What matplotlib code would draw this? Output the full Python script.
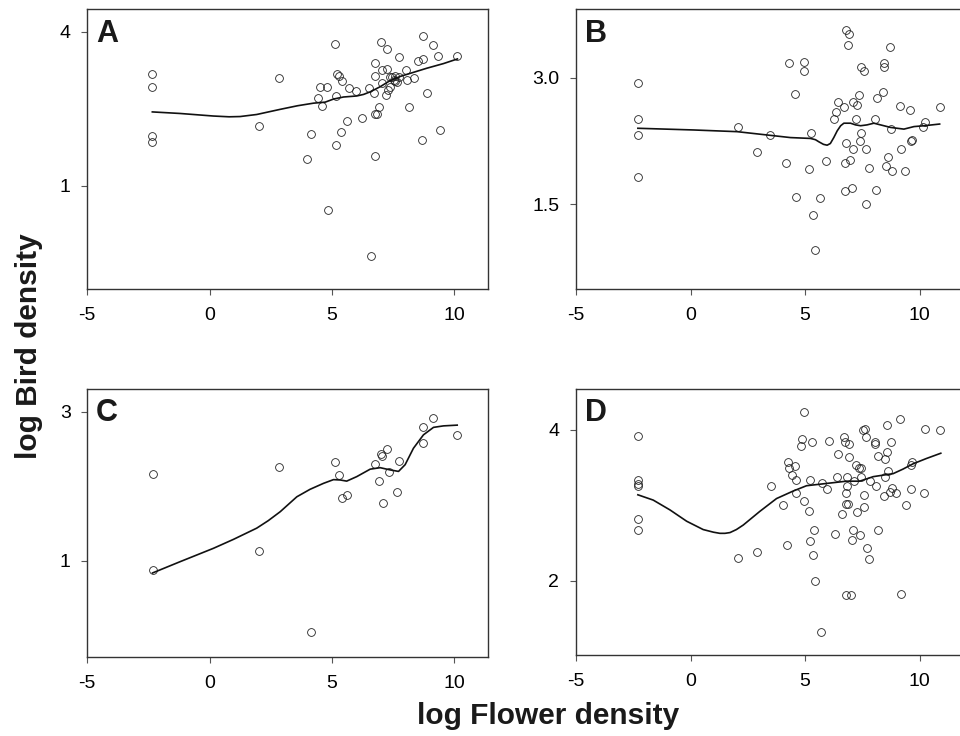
import matplotlib as mpl
mpl.use("Agg")
import matplotlib.pyplot as plt

plt.rcParams["font.family"] = ["Liberation Sans", "DejaVu Sans"]

# panel A
a_x = [-2.34, -2.34, -2.34, -2.34, 2.86, 2.01, 5.12, 4.84, 4.00, 4.15, 5.18, 5.37,
       5.63, 6.24, 6.60, 6.77, 6.77, 6.83, 6.95, 4.43, 4.59, 4.52, 4.82, 5.18, 5.22,
       5.29, 5.40, 5.70, 6.00, 6.53, 6.72, 6.75, 6.76, 7.02, 7.24, 7.06, 7.24, 7.05,
       7.21, 7.32, 7.39, 7.53, 7.59, 7.73, 7.76, 8.02, 8.07, 8.14, 8.38, 8.52, 8.72,
       8.72, 9.13, 9.34, 8.91, 8.71, 9.41, 10.14, 7.46, 7.57, 7.68, 7.39]
a_y = [3.18, 2.93, 1.97, 1.86, 3.09, 2.17, 3.76, 0.53, 1.52, 2.01, 1.80, 2.04,
       2.26, 2.33, -0.36, 1.58, 2.40, 2.40, 2.53, 2.71, 2.56, 2.92, 2.92, 2.74, 3.18,
       3.13, 3.05, 2.90, 2.85, 2.90, 2.81, 3.14, 3.40, 3.79, 3.66, 3.25, 3.27, 3.00,
       2.77, 2.87, 3.11, 3.06, 3.14, 3.12, 3.51, 3.25, 3.06, 2.53, 3.09, 3.43, 3.47,
       3.92, 3.75, 3.53, 2.81, 1.89, 2.08, 3.53, 3.11, 3.05, 3.03, 2.93]
a_fit_x = [-2.34, -1.21, 0.16, 0.8, 1.25, 1.93, 2.89, 3.6, 4.25, 4.73, 5.07, 5.48,
           6.02, 6.3, 6.57, 6.98, 7.39, 7.80, 8.21, 8.89, 9.57, 10.14]
a_fit_y = [2.44, 2.41, 2.36, 2.345, 2.35, 2.39, 2.49, 2.56, 2.61, 2.63, 2.69, 2.73,
           2.75, 2.78, 2.83, 2.93, 3.05, 3.13, 3.19, 3.29, 3.38, 3.47]

# panel B
b_x = [-2.30, -2.30, -2.30, -2.30, 2.06, 2.89, 3.48, 4.30, 4.93, 4.94, 4.55, 4.18,
       4.58, 5.15, 5.25, 5.34, 5.41, 5.66, 5.93, 6.28, 6.36, 6.42, 6.68, 6.78, 6.91,
       6.88, 6.79, 6.72, 6.97, 6.76, 7.04, 7.08, 7.26, 7.35, 7.24, 7.10, 7.42, 7.39,
       7.64, 7.45, 7.55, 7.78, 7.67, 8.08, 8.03, 8.14, 8.40, 8.43, 8.43, 8.69, 8.75,
       8.60, 8.54, 8.78, 9.17, 9.13, 9.58, 9.65, 9.61, 9.36, 10.23, 10.15, 10.87]
b_y = [2.94, 2.51, 2.32, 1.82, 2.41, 2.12, 2.32, 3.17, 3.18, 3.08, 2.81, 1.99,
       1.59, 1.92, 2.34, 1.37, 0.96, 1.57, 2.01, 2.51, 2.59, 2.71, 2.65, 3.56, 3.52,
       3.39, 2.23, 1.99, 2.02, 1.66, 1.69, 2.71, 2.68, 2.79, 2.51, 2.16, 2.34, 2.25,
       2.16, 3.12, 3.08, 1.93, 1.51, 1.67, 2.51, 2.76, 2.83, 3.17, 3.12, 3.36, 2.39,
       2.06, 1.95, 1.89, 2.16, 2.66, 2.62, 2.26, 2.25, 1.89, 2.47, 2.41, 2.65]
b_fit_x = [-2.30, 0.13, 2.03, 4.36, 5.23, 5.45, 5.60, 5.80, 5.96, 6.10, 6.25, 6.40,
           6.55, 6.69, 6.98, 7.20, 7.42, 7.70, 8.00, 8.29, 8.73, 9.31, 9.75, 10.19,
           10.87]
b_fit_y = [2.40, 2.38, 2.36, 2.29, 2.28, 2.265, 2.24, 2.21, 2.20, 2.22, 2.29, 2.37,
           2.43, 2.46, 2.46, 2.44, 2.43, 2.44, 2.46, 2.44, 2.41, 2.39, 2.42, 2.43,
           2.45]

# panel C
c_x = [-2.33, -2.33, 2.04, 2.86, 4.17, 5.14, 5.30, 5.41, 5.64, 6.76, 6.95, 7.02,
       7.07, 7.25, 7.36, 7.09, 7.67, 7.77, 8.75, 8.75, 9.16, 10.13]
c_y = [2.17, 0.88, 1.13, 2.26, 0.05, 2.33, 2.15, 1.84, 1.89, 2.30, 2.07, 2.43,
       2.41, 2.50, 2.19, 1.78, 1.92, 2.34, 2.79, 2.58, 2.92, 2.69]
c_fit_x = [-2.33, -1.21, 0.16, 0.98, 1.93, 2.40, 2.89, 3.57, 4.11, 4.66, 5.07, 5.35,
           5.61, 6.02, 6.57, 6.98, 7.39, 7.73, 8.00, 8.34, 8.75, 9.16, 9.57, 10.13]
c_fit_y = [0.84, 0.99, 1.17, 1.29, 1.44, 1.54, 1.66, 1.86, 1.96, 2.04, 2.09, 2.085,
           2.07, 2.13, 2.23, 2.25, 2.22, 2.20, 2.29, 2.51, 2.69, 2.79, 2.81, 2.82]

# panel D
d_x = [-2.30, -2.30, -2.30, -2.30, -2.30, -2.30, 2.06, 2.89, 3.50, 4.04, 4.19, 4.62,
       4.96, 5.16, 5.22, 4.96, 4.88, 4.83, 5.29, 5.40, 5.22, 5.35, 5.44, 5.70, 5.74,
       5.96, 6.02, 6.31, 6.37, 6.42, 6.70, 6.73, 6.93, 6.63, 6.78, 6.85, 6.78, 6.98,
       6.80, 6.83, 6.83, 6.93, 7.06, 7.11, 7.12, 7.28, 7.24, 7.34, 7.43, 7.43, 7.38,
       7.53, 7.63, 7.66, 7.56, 7.56, 7.69, 7.79, 7.82, 8.05, 8.05, 8.11, 8.17, 8.20,
       8.42, 8.47, 8.56, 8.59, 8.62, 8.47, 8.74, 8.72, 8.77, 8.98, 9.13, 9.19, 9.38,
       9.61, 9.65, 9.62, 10.19, 10.25, 10.89, 4.26, 4.56, 4.30, 4.43, 4.59]
d_y = [3.92, 3.33, 3.28, 3.25, 2.82, 2.68, 2.30, 2.38, 3.25, 3.01, 2.48, 3.16,
       3.06, 2.92, 3.34, 4.23, 3.88, 3.78, 3.84, 2.68, 2.53, 2.34, 2.00, 1.32, 3.29,
       3.22, 3.85, 2.62, 3.37, 3.68, 3.90, 3.84, 3.81, 2.88, 3.02, 3.02, 1.81, 1.81,
       3.16, 3.25, 3.38, 3.64, 2.54, 2.68, 3.32, 2.91, 3.54, 3.50, 3.49, 3.38, 2.61,
       4.00, 4.01, 3.90, 3.14, 2.98, 2.44, 2.29, 3.32, 3.84, 3.81, 3.26, 3.66, 2.68,
       3.12, 3.61, 3.70, 4.06, 3.46, 3.38, 3.84, 3.18, 3.23, 3.17, 4.14, 1.83, 3.00,
       3.53, 3.58, 3.22, 3.17, 4.01, 4.00, 3.57, 3.52, 3.50, 3.40, 3.34]
d_fit_x = [-2.30, -1.63, -0.90, -0.17, 0.55, 1.00, 1.28, 1.50, 1.72, 2.00, 2.30,
           3.02, 3.75, 4.48, 5.06, 5.64, 6.22, 6.80, 7.38, 7.97, 8.40, 8.84, 9.27,
           9.71, 10.29, 10.92]
d_fit_y = [3.14, 3.07, 2.94, 2.79, 2.68, 2.645, 2.63, 2.63, 2.64, 2.68, 2.74,
           2.92, 3.09, 3.19, 3.26, 3.28, 3.30, 3.32, 3.32, 3.38, 3.40, 3.42, 3.48,
           3.55, 3.62, 3.69]


def panel(ax, x, y, fx, fy, letter, xlim, ylim, yticks, ylabels):
    ax.plot(x, y, linestyle="none", marker="o", markersize=5.6,
            markerfacecolor="none", markeredgecolor="#222222", markeredgewidth=0.6)
    ax.plot(fx, fy, color="#111111", linewidth=1.2)
    ax.set_xlim(*xlim)
    ax.set_ylim(*ylim)
    ax.set_xticks([-5, 0, 5, 10])
    ax.set_xticklabels(["-5", "0", "5", "10"])
    ax.set_yticks(yticks)
    ax.set_yticklabels(ylabels)
    ax.tick_params(length=4, width=0.8, color="#555555", labelsize=14, pad=8)
    ax.tick_params(axis="x", pad=9)
    for s in ax.spines.values():
        s.set_color("#333333")
        s.set_linewidth(1.0)
    ax.text(0.022, 0.965, letter, transform=ax.transAxes, fontsize=22,
            fontweight="bold", va="top", ha="left", color="#1a1a1a")


W, H = 960, 736
fig = plt.figure(figsize=(W / 100, H / 100), dpi=100)


def box(l, t, r, b):
    return [l / W, 1 - b / H, (r - l) / W, (b - t) / H]


ax1 = fig.add_axes(box(87.3, 9, 488, 289))
ax2 = fig.add_axes(box(576, 9, 977, 289))
ax3 = fig.add_axes(box(87.3, 389, 488, 656.7))
ax4 = fig.add_axes(box(576, 389, 977, 655))

panel(ax1, a_x, a_y, a_fit_x, a_fit_y, "A", (-5, 11.39), (-1.003, 4.441), [1, 4], ["1", "4"])
panel(ax2, b_x, b_y, b_fit_x, b_fit_y, "B", (-5, 12.5), (0.50, 3.81), [1.5, 3.0], ["1.5", "3.0"])
panel(ax3, c_x, c_y, c_fit_x, c_fit_y, "C", (-5, 11.39), (-0.282, 3.304), [1, 3], ["1", "3"])
panel(ax4, d_x, d_y, d_fit_x, d_fit_y, "D", (-5, 12.5), (1.02, 4.54), [2, 4], ["2", "4"])

fig.text(29 / W, 1 - 346 / H, "log Bird density", rotation=90, fontsize=21.5,
         fontweight="bold", ha="center", va="center", color="#1a1a1a")
fig.text(548 / W, 1 - 716 / H, "log Flower density", fontsize=21.5,
         fontweight="bold", ha="center", va="center", color="#1a1a1a")

fig.savefig("out.png", dpi=100)
